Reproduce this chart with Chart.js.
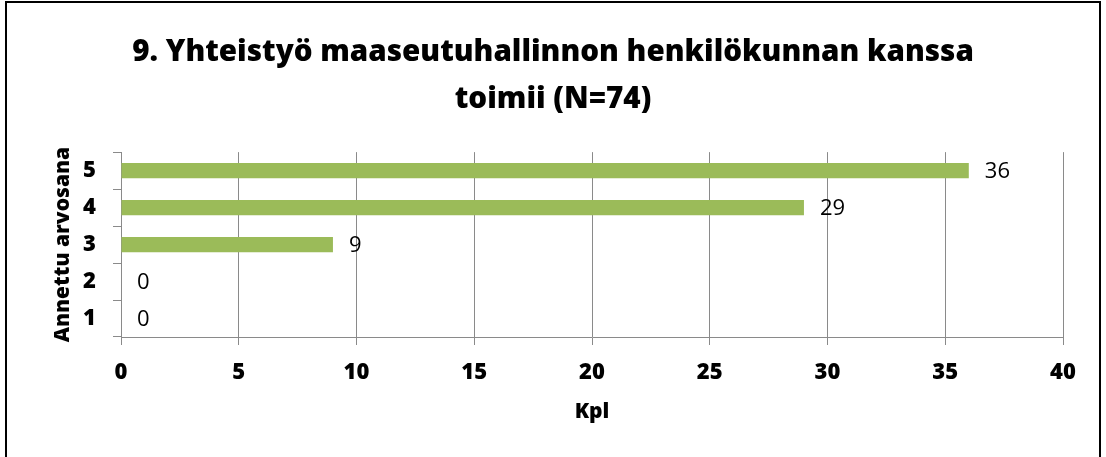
<!DOCTYPE html>
<html lang="fi">

<head>
    <meta charset="UTF-8">
    <title>Yhteistyö maaseutuhallinnon henkilökunnan kanssa</title>
    <script src="https://cdn.jsdelivr.net/npm/chart.js"></script>
    <style>
        body {
            margin: 0;
            background: white;
            overflow: hidden;
        }

        .chart-frame {
            position: absolute;
            left: 5px;
            top: 1px;
            width: 1096px;
            height: 480px;
            border: 2px solid #000;
            box-sizing: border-box;
        }
    </style>
</head>

<body>

    <div class="chart-frame">
        <canvas id="myChart" width="1092" height="476"></canvas>
    </div>

    <script>
        // Chart data
        const grades = ['5', '4', '3', '2', '1'];
        const counts = [36, 29, 9, 0, 0];
        const xTicks = { min: 0, max: 40, step: 5 };
        const titleLines = ['9. Yhteistyö maaseutuhallinnon henkilökunnan kanssa', 'toimii (N=74)'];

        const fontName = '"Open Sans", Lato, sans-serif';
        const gridGray = '#8a8a8a';

        // value labels at the end of each bar
        const barValues = {
            id: 'barValues',
            afterDatasetsDraw(chart) {
                const ctx = chart.ctx;
                const meta = chart.getDatasetMeta(0);
                ctx.save();
                ctx.font = '22px ' + fontName;
                ctx.fillStyle = '#000';
                ctx.textAlign = 'left';
                ctx.textBaseline = 'middle';
                meta.data.forEach((bar, i) => {
                    ctx.fillText(String(counts[i]), bar.x + 16, bar.y + 1);
                });
                ctx.restore();
            }
        };

        const ctx = document.getElementById('myChart').getContext('2d');
        new Chart(ctx, {
            type: 'bar',
            data: {
                labels: grades,
                datasets: [{
                    data: counts,
                    backgroundColor: '#9bbb59',
                    borderWidth: 0,
                    barPercentage: 0.41,
                    categoryPercentage: 1
                }]
            },
            options: {
                indexAxis: 'y',
                responsive: false,
                animation: false,
                layout: { padding: { left: 0, right: 0, top: 0, bottom: 42 } },
                plugins: {
                    legend: { display: false },
                    tooltip: { enabled: false },
                    title: {
                        display: true,
                        text: titleLines,
                        color: '#000',
                        font: { family: fontName, size: 29.6, weight: '800', lineHeight: 1.59 },
                        padding: { top: 26, bottom: 29 }
                    }
                },
                scales: {
                    x: {
                        min: xTicks.min,
                        max: xTicks.max,
                        // keep the title centred on the full frame, but leave room on the right
                        afterFit: scale => { scale.height = 100; scale.paddingRight = 36; },
                        ticks: {
                            stepSize: xTicks.step,
                            color: '#000',
                            padding: 15,
                            font: { family: fontName, size: 22, weight: '800' }
                        },
                        grid: { color: gridGray, tickLength: 8, tickColor: gridGray },
                        border: { color: gridGray },
                        title: {
                            display: true,
                            text: 'Kpl',
                            color: '#000',
                            font: { family: fontName, size: 21, weight: '800' },
                            padding: { top: 0, bottom: 12 }
                        }
                    },
                    y: {
                        afterFit: scale => { scale.width = 114; },
                        ticks: {
                            color: '#000',
                            padding: 17,
                            font: { family: fontName, size: 22, weight: '800' }
                        },
                        grid: { drawOnChartArea: false, tickLength: 8, color: gridGray, offset: true },
                        border: { color: gridGray },
                        title: {
                            display: true,
                            text: 'Annettu arvosana',
                            color: '#000',
                            font: { family: fontName, size: 21, weight: '800' },
                            padding: { top: 43, bottom: 0 }
                        }
                    }
                }
            },
            plugins: [barValues]
        });
    </script>

</body>

</html>
